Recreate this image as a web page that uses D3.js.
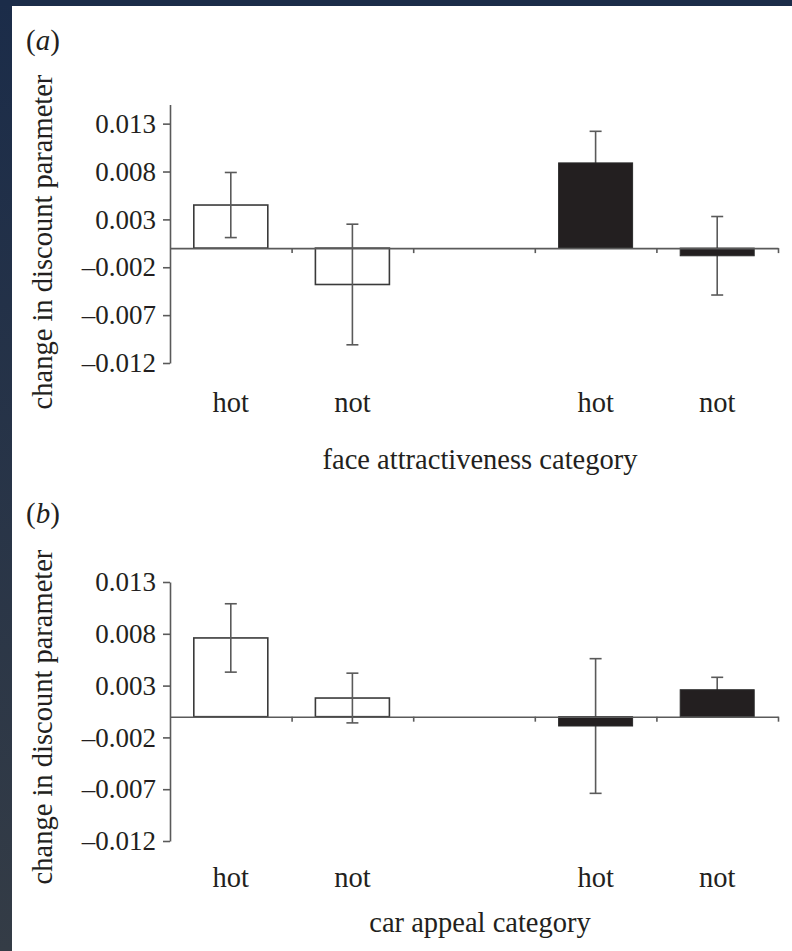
<!DOCTYPE html>
<html>
<head>
<meta charset="utf-8">
<script src="https://d3js.org/d3.v7.min.js"></script>
<title>Discount parameter</title>
<style>
  body { margin: 0; background: #fff; }
  svg { display: block; }
  text { font-family: 'Liberation Serif', 'Times New Roman', serif; fill: #231f20; }
</style>
</head>
<body>
<script>
// categories: two groups (white / black) with a gap between them
var cats = ["hot_w", "not_w", "gap", "hot_b", "not_b"],
    catLabels = ["hot", "not", "", "hot", "not"],
    catFill = ["white", "white", null, "black", "black"];

// panel (a) face attractiveness
var faceMean = [0.0045, -0.0038, null, 0.0089, -0.0008],
    faceErr  = [0.0034,  0.0063, null, 0.0033,  0.0041];
// panel (b) car appeal
var carMean  = [0.0076,  0.0018, null, -0.0009, 0.0026],
    carErr   = [0.0033,  0.0024, null,  0.0065, 0.0012];

var yTicks = [0.013, 0.008, 0.003, -0.002, -0.007, -0.012];

var W = 792, H = 951,
    axisCol = "#5a5a5a",
    ink = "#231f20";

var svg = d3.select("body").append("svg")
  .attr("width", W)
  .attr("height", H);

// dark frame strip (left + top)
var grad = svg.append("defs").append("linearGradient")
  .attr("id", "frame").attr("x1", 0).attr("y1", 0).attr("x2", 0).attr("y2", 1);
grad.append("stop").attr("offset", 0).attr("stop-color", "#1b2c49");
grad.append("stop").attr("offset", 1).attr("stop-color", "#343c46");
svg.append("rect").attr("x", 0).attr("y", 0).attr("width", 12).attr("height", H).attr("fill", "url(#frame)");
svg.append("rect").attr("x", 0).attr("y", 0).attr("width", W).attr("height", 6).attr("fill", "#1b2c49");

var x = d3.scaleBand().domain(cats).range([170, 778]).padding(0);
var xb = d3.scaleLinear().domain([0, 5]).range([170, 778]);
var barW = 74;

function fmt(d){ return (d < 0 ? "\u2013" : "") + Math.abs(d).toFixed(3); }

function panel(opt){
  var y = d3.scaleLinear().domain(opt.domain).range(opt.range);
  var g = svg.append("g");
  var data = cats.map(function(c, i){
    return {cat: c, label: catLabels[i], fill: catFill[i], m: opt.mean[i], e: opt.err[i]};
  }).filter(function(d){ return d.m !== null; });

  // y axis
  var ya = g.append("g")
    .attr("transform", "translate(170,0)")
    .call(d3.axisLeft(y).tickValues(yTicks).tickFormat(fmt).tickSize(7).tickSizeOuter(0).tickPadding(7));
  ya.select(".domain").attr("stroke", axisCol).attr("stroke-width", 1.6);
  ya.selectAll(".tick line").attr("stroke", axisCol).attr("stroke-width", 1.6);
  ya.selectAll(".tick text").attr("font-size", 27).attr("fill", ink)
    .style("font-family", "'Liberation Serif', serif");

  // white bars
  g.selectAll("rect.w").data(data.filter(function(d){ return d.fill === "white"; }))
    .enter().append("rect").attr("class", "w")
      .attr("x", function(d){ return x(d.cat) + (x.bandwidth() - barW) / 2; })
      .attr("y", function(d){ return y(Math.max(0, d.m)); })
      .attr("width", barW)
      .attr("height", function(d){ return Math.abs(y(d.m) - y(0)); })
      .attr("fill", "#fff").attr("stroke", "#3a3a3a").attr("stroke-width", 1.6);

  // error bars
  var eb = g.selectAll("g.err").data(data).enter().append("g").attr("class", "err")
    .attr("stroke", axisCol).attr("stroke-width", 1.6);
  eb.append("line")
    .attr("x1", function(d){ return x(d.cat) + x.bandwidth() / 2; })
    .attr("x2", function(d){ return x(d.cat) + x.bandwidth() / 2; })
    .attr("y1", function(d){ return y(d.m + d.e); })
    .attr("y2", function(d){ return y(d.m - d.e); });
  [1, -1].forEach(function(s){
    eb.append("line")
      .attr("x1", function(d){ return x(d.cat) + x.bandwidth() / 2 - 6; })
      .attr("x2", function(d){ return x(d.cat) + x.bandwidth() / 2 + 6; })
      .attr("y1", function(d){ return y(d.m + s * d.e); })
      .attr("y2", function(d){ return y(d.m + s * d.e); });
  });

  // black bars
  g.selectAll("rect.b").data(data.filter(function(d){ return d.fill === "black"; }))
    .enter().append("rect").attr("class", "b")
      .attr("x", function(d){ return x(d.cat) + (x.bandwidth() - barW) / 2; })
      .attr("y", function(d){ return y(Math.max(0, d.m)); })
      .attr("width", barW)
      .attr("height", function(d){ return Math.abs(y(d.m) - y(0)); })
      .attr("fill", ink).attr("stroke", "#2a2a2a").attr("stroke-width", 1);

  // zero line with ticks at band boundaries
  var xa = g.append("g")
    .attr("transform", "translate(0," + y(0) + ")")
    .call(d3.axisBottom(xb).tickValues([1, 2, 3, 4, 5]).tickFormat("").tickSize(5).tickSizeOuter(0));
  xa.select(".domain").attr("stroke", axisCol).attr("stroke-width", 1.6);
  xa.selectAll(".tick line").attr("stroke", axisCol).attr("stroke-width", 1.6);

  // category labels
  g.selectAll("text.cat").data(data).enter().append("text").attr("class", "cat")
    .attr("x", function(d){ return x(d.cat) + x.bandwidth() / 2; })
    .attr("y", opt.catY)
    .attr("text-anchor", "middle")
    .attr("font-size", 28.5)
    .text(function(d){ return d.label; });

  // axis titles
  g.append("text")
    .attr("x", 480).attr("y", opt.titleY)
    .attr("text-anchor", "middle").attr("font-size", 28.5)
    .text(opt.xTitle);
  g.append("text")
    .attr("transform", "translate(52," + opt.yTitleMid + ") rotate(-90)")
    .attr("text-anchor", "middle").attr("font-size", 28.5)
    .text("change in discount parameter");

  // panel letter
  var pl = g.append("text").attr("x", 26).attr("y", opt.letterY).attr("font-size", 29);
  pl.append("tspan").text("(");
  pl.append("tspan").attr("font-style", "italic").text(opt.letter);
  pl.append("tspan").text(")");
}

panel({
  domain: [-0.012, 0.015], range: [363, 104.5],
  mean: faceMean, err: faceErr,
  catY: 412, titleY: 469, xTitle: "face attractiveness category",
  yTitleMid: 242, letter: "a", letterY: 50
});

panel({
  domain: [-0.012, 0.013], range: [841, 582],
  mean: carMean, err: carErr,
  catY: 887, titleY: 932, xTitle: "car appeal category",
  yTitleMid: 717, letter: "b", letterY: 523
});
</script>
</body>
</html>
